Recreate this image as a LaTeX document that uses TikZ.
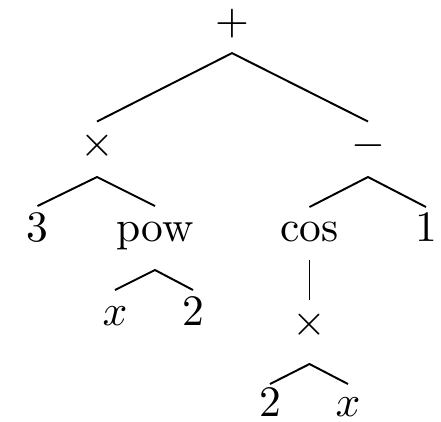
\documentclass[tikz,border=0pt]{standalone}
\usetikzlibrary{calc}
\begin{document}
\begin{tikzpicture}[x=0.23pt,y=-0.23pt,
  lbl/.style={inner sep=0pt,anchor=base},
  edge/.style={line width=0.45pt}]
\useasboundingbox (0,0) rectangle (441,421);
\node[lbl] (plus) at (232,34.5) {$+$};
\node[lbl] (t1) at (97,156) {$\times$};
\node[lbl] (m) at (368,156) {$-$};
\node[lbl] (three) at (37.5,241) {3};
\node[lbl] (pow) at (155,241) {pow};
\node[lbl] (cos) at (309.5,241) {cos};
\node[lbl] (one) at (426,241) {1};
\node[lbl] (x1) at (115,325) {$x$};
\node[lbl] (two1) at (193,325) {2};
\node[lbl] (t2) at (309.5,335) {$\times$};
\node[lbl] (two2) at (270,416) {2};
\node[lbl] (x2) at (348,416) {$x$};
% edges
\draw[edge] ($(t1.base)+(0,-34.5)$) -- ($(plus.base)+(0,18.6)$) -- ($(m.base)+(0,-34.5)$);
\draw[edge] ($(three.base)+(0,-35)$) -- ($(t1.base)+(0,21)$) -- ($(pow.base)+(0,-35)$);
\draw[edge] ($(cos.base)+(0,-34)$) -- ($(m.base)+(0,21)$) -- ($(one.base)+(0,-34)$);
\draw[edge] ($(x1.base)+(0,-35)$) -- ($(pow.base)+(0,29)$) -- ($(two1.base)+(0,-35)$);
\draw[edge] ($(cos.base)+(0,19)$) -- ($(t2.base)+(0,-35)$);
\draw[edge] ($(two2.base)+(0,-32)$) -- ($(t2.base)+(0,29)$) -- ($(x2.base)+(0,-32)$);
\end{tikzpicture}
\end{document}
